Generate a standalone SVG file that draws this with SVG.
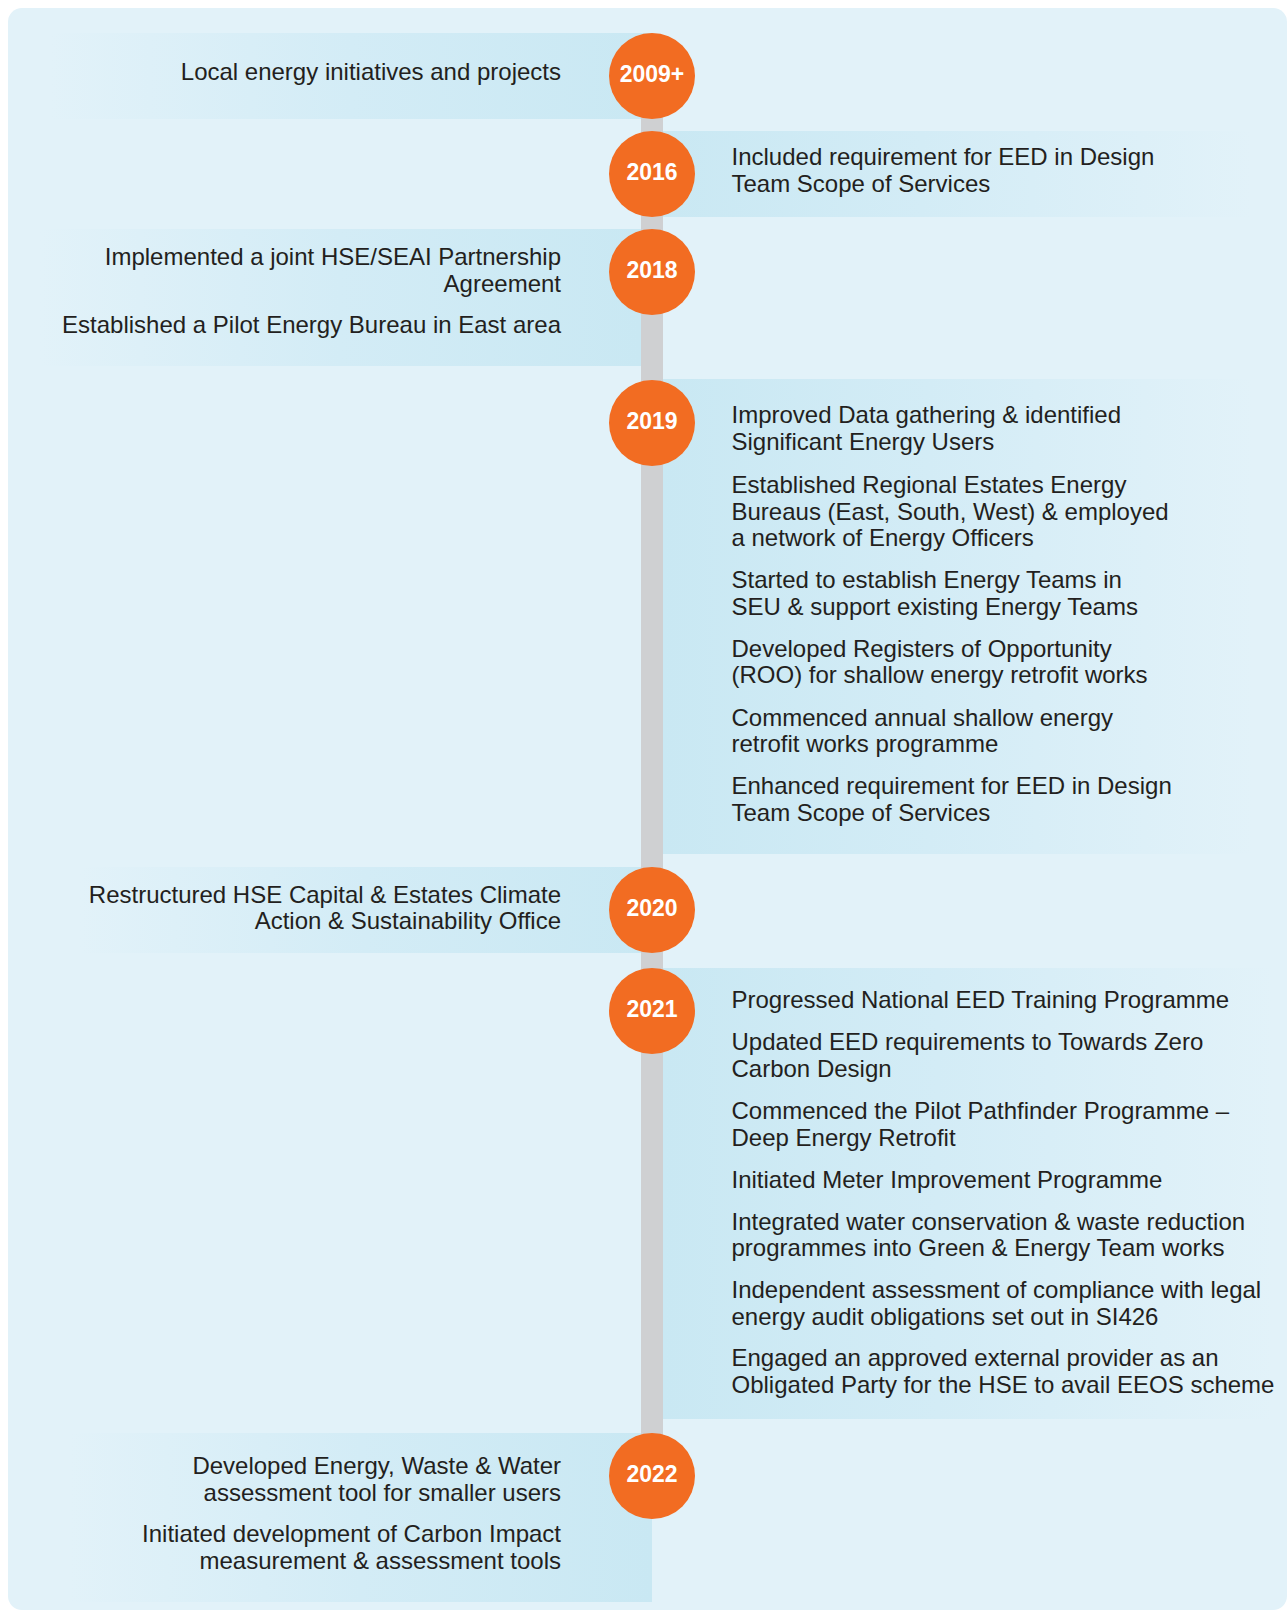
<svg xmlns="http://www.w3.org/2000/svg" width="1287" height="1612" viewBox="0 0 1287 1612">
<style>
.txt{font-family:"Liberation Sans",Arial,Helvetica,sans-serif;font-size:24px;fill:#231F20}
.l{text-anchor:end}
.yr{font-family:"Liberation Sans",Arial,Helvetica,sans-serif;font-size:23px;font-weight:bold;fill:#FFFFFF;text-anchor:middle}
.dot{fill:#F26C22}
.bandR{fill:url(#gR)}
.bandL{fill:url(#gL)}
</style>
<defs>
<linearGradient id="gR" x1="0" y1="0" x2="1" y2="0">
<stop offset="0" stop-color="#C9E8F3"/>
<stop offset="0.45" stop-color="#D3ECF6"/>
<stop offset="1" stop-color="#E2F2F9"/>
</linearGradient>
<linearGradient id="gL" x1="0" y1="0" x2="1" y2="0">
<stop offset="0" stop-color="#E2F2F9"/>
<stop offset="0.5" stop-color="#D3ECF6"/>
<stop offset="1" stop-color="#C9E8F3"/>
</linearGradient>
</defs>
<rect x="0" y="0" width="1287" height="1612" fill="#FFFFFF"/>
<rect x="8" y="8" width="1279" height="1602" rx="14" fill="#E2F2F9"/>
<g id="bands">
<rect class="bandL" x="50" y="33" width="602" height="86"/>
<rect class="bandR" x="652" y="131" width="600" height="86"/>
<rect class="bandL" x="40" y="229" width="601" height="137"/>
<rect class="bandR" x="663" y="379" width="590" height="475"/>
<rect class="bandL" x="80" y="867" width="572" height="86"/>
<rect class="bandR" x="663" y="968" width="610" height="451"/>
<rect class="bandL" x="70" y="1433" width="582" height="169"/>
</g>
<g id="connectors">
<rect x="641" y="76" width="22" height="1400" fill="#CFD0D2"/>
</g>
<g id="n2009">
<circle class="dot" cx="652" cy="76" r="43"/>
<text class="yr" x="652" y="82">2009+</text>
<text class="txt l" x="561" y="80">Local energy initiatives and projects</text>
</g>
<g id="n2016">
<circle class="dot" cx="652" cy="174" r="43"/>
<text class="yr" x="652" y="180">2016</text>
<text class="txt" x="731.5" y="165">Included requirement for EED in Design</text>
<text class="txt" x="731.5" y="191.7">Team Scope of Services</text>
</g>
<g id="n2018">
<circle class="dot" cx="652" cy="272" r="43"/>
<text class="yr" x="652" y="278">2018</text>
<text class="txt l" x="561" y="265">Implemented a joint HSE/SEAI Partnership</text>
<text class="txt l" x="561" y="291.7">Agreement</text>
<text class="txt l" x="561" y="333.3">Established a Pilot Energy Bureau in East area</text>
</g>
<g id="n2019">
<circle class="dot" cx="652" cy="423" r="43"/>
<text class="yr" x="652" y="429">2019</text>
<text class="txt" x="731.5" y="423.3">Improved Data gathering &amp; identified</text>
<text class="txt" x="731.5" y="450">Significant Energy Users</text>
<text class="txt" x="731.5" y="493">Established Regional Estates Energy</text>
<text class="txt" x="731.5" y="519.5">Bureaus (East, South, West) &amp; employed</text>
<text class="txt" x="731.5" y="546">a network of Energy Officers</text>
<text class="txt" x="731.5" y="588.3">Started to establish Energy Teams in</text>
<text class="txt" x="731.5" y="614.8">SEU &amp; support existing Energy Teams</text>
<text class="txt" x="731.5" y="656.7">Developed Registers of Opportunity</text>
<text class="txt" x="731.5" y="683.2">(ROO) for shallow energy retrofit works</text>
<text class="txt" x="731.5" y="725.6">Commenced annual shallow energy</text>
<text class="txt" x="731.5" y="752.1">retrofit works programme</text>
<text class="txt" x="731.5" y="794">Enhanced requirement for EED in Design</text>
<text class="txt" x="731.5" y="820.5">Team Scope of Services</text>
</g>
<g id="n2020">
<circle class="dot" cx="652" cy="910" r="43"/>
<text class="yr" x="652" y="916">2020</text>
<text class="txt l" x="561" y="903.3">Restructured HSE Capital &amp; Estates Climate</text>
<text class="txt l" x="561" y="929.3">Action &amp; Sustainability Office</text>
</g>
<g id="n2021">
<circle class="dot" cx="652" cy="1011" r="43"/>
<text class="yr" x="652" y="1017">2021</text>
<text class="txt" x="731.5" y="1007.7">Progressed National EED Training Programme</text>
<text class="txt" x="731.5" y="1050">Updated EED requirements to Towards Zero</text>
<text class="txt" x="731.5" y="1076.5">Carbon Design</text>
<text class="txt" x="731.5" y="1119">Commenced the Pilot Pathfinder Programme –</text>
<text class="txt" x="731.5" y="1145.5">Deep Energy Retrofit</text>
<text class="txt" x="731.5" y="1187.7">Initiated Meter Improvement Programme</text>
<text class="txt" x="731.5" y="1229.5">Integrated water conservation &amp; waste reduction</text>
<text class="txt" x="731.5" y="1256">programmes into Green &amp; Energy Team works</text>
<text class="txt" x="731.5" y="1298">Independent assessment of compliance with legal</text>
<text class="txt" x="731.5" y="1324.5">energy audit obligations set out in SI426</text>
<text class="txt" x="731.5" y="1366">Engaged an approved external provider as an</text>
<text class="txt" x="731.5" y="1392.5">Obligated Party for the HSE to avail EEOS scheme</text>
</g>
<g id="n2022">
<circle class="dot" cx="652" cy="1476" r="43"/>
<text class="yr" x="652" y="1482">2022</text>
<text class="txt l" x="561" y="1474">Developed Energy, Waste &amp; Water</text>
<text class="txt l" x="561" y="1500.5">assessment tool for smaller users</text>
<text class="txt l" x="561" y="1542">Initiated development of Carbon Impact</text>
<text class="txt l" x="561" y="1568.5">measurement &amp; assessment tools</text>
</g>
</svg>
